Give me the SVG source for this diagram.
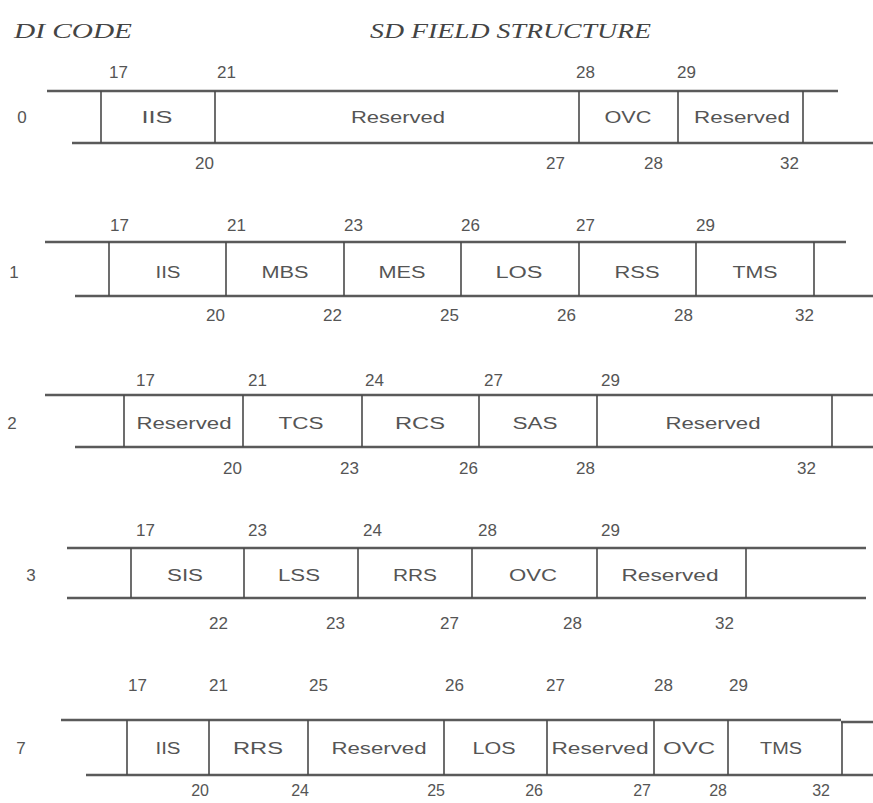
<svg xmlns="http://www.w3.org/2000/svg" width="873" height="803" viewBox="0 0 873 803">
<style>
.title{font-family:"Liberation Serif",serif;font-style:italic;font-size:22px;fill:#444}
.num{font-family:"Liberation Sans",Arial,sans-serif;font-size:17px;fill:#555}
.nb{text-anchor:end}
.cell{font-family:"Liberation Sans",Arial,sans-serif;font-size:16px;fill:#555;text-anchor:middle}
.di{font-family:"Liberation Sans",Arial,sans-serif;font-size:17px;fill:#555;text-anchor:middle}
.h{stroke:#5a5a5a;stroke-width:2.6;fill:none}
.v{stroke:#4a4a4a;stroke-width:1.6;fill:none}
</style>
<rect width="873" height="803" fill="#fff"/>
<g id="header">
<text class="title" x="14" y="38" textLength="118" lengthAdjust="spacingAndGlyphs">DI CODE</text>
<text class="title" x="370" y="38" textLength="281" lengthAdjust="spacingAndGlyphs">SD FIELD STRUCTURE</text>
</g>
<g id="connectors">
<path class="h" d="M47 91H838M72 143H873"/>
<path class="v" d="M101 91V143M215 91V143M579 91V143M678 91V143M803 91V143"/>
<path class="h" d="M45 242H846M75 296H873"/>
<path class="v" d="M109 242V296M226 242V296M344 242V296M461 242V296M579 242V296M696 242V296M814 242V296"/>
<path class="h" d="M45 395H873M75 447H873"/>
<path class="v" d="M124 395V447M243 395V447M362 395V447M479 395V447M597 395V447M832 395V447"/>
<path class="h" d="M67 548H866M67 598H866"/>
<path class="v" d="M131 548V598M244 548V598M358 548V598M472 548V598M597 548V598M746 548V598"/>
<path class="h" d="M61 720H841M841 722H873M86 775H873"/>
<path class="v" d="M127 720V775M209 720V775M308 720V775M444 720V775M547 720V775M654 720V775M728 720V775M842 722V775"/>
</g>
<g id="row0">
<text class="di" x="22" y="123">0</text>
<g class="num"><text x="109" y="78">17</text><text x="217" y="78">21</text><text x="576" y="78">28</text><text x="677" y="78">29</text></g>
<g class="num nb"><text x="214" y="169">20</text><text x="565" y="169">27</text><text x="663" y="169">28</text><text x="799" y="169">32</text></g>
<text class="cell" x="157" y="123" textLength="31" lengthAdjust="spacingAndGlyphs">IIS</text>
<text class="cell" x="398" y="123" textLength="94" lengthAdjust="spacingAndGlyphs">Reserved</text>
<text class="cell" x="628" y="123" textLength="47" lengthAdjust="spacingAndGlyphs">OVC</text>
<text class="cell" x="742" y="123" textLength="96" lengthAdjust="spacingAndGlyphs">Reserved</text>
</g>
<g id="row1">
<text class="di" x="14" y="278">1</text>
<g class="num"><text x="110" y="231">17</text><text x="227" y="231">21</text><text x="344" y="231">23</text><text x="461" y="231">26</text><text x="576" y="231">27</text><text x="696" y="231">29</text></g>
<g class="num nb"><text x="225" y="321">20</text><text x="342" y="321">22</text><text x="459" y="321">25</text><text x="576" y="321">26</text><text x="693" y="321">28</text><text x="814" y="321">32</text></g>
<text class="cell" x="168" y="278" textLength="25" lengthAdjust="spacingAndGlyphs">IIS</text>
<text class="cell" x="285" y="278" textLength="47" lengthAdjust="spacingAndGlyphs">MBS</text>
<text class="cell" x="402" y="278" textLength="47" lengthAdjust="spacingAndGlyphs">MES</text>
<text class="cell" x="519" y="278" textLength="47" lengthAdjust="spacingAndGlyphs">LOS</text>
<text class="cell" x="637" y="278" textLength="45" lengthAdjust="spacingAndGlyphs">RSS</text>
<text class="cell" x="755" y="278" textLength="45" lengthAdjust="spacingAndGlyphs">TMS</text>
</g>
<g id="row2">
<text class="di" x="12" y="429">2</text>
<g class="num"><text x="136" y="386">17</text><text x="248" y="386">21</text><text x="365" y="386">24</text><text x="484" y="386">27</text><text x="601" y="386">29</text></g>
<g class="num nb"><text x="242" y="474">20</text><text x="359" y="474">23</text><text x="478" y="474">26</text><text x="595" y="474">28</text><text x="816" y="474">32</text></g>
<text class="cell" x="184" y="429" textLength="95" lengthAdjust="spacingAndGlyphs">Reserved</text>
<text class="cell" x="301" y="429" textLength="45" lengthAdjust="spacingAndGlyphs">TCS</text>
<text class="cell" x="420" y="429" textLength="50" lengthAdjust="spacingAndGlyphs">RCS</text>
<text class="cell" x="535" y="429" textLength="45" lengthAdjust="spacingAndGlyphs">SAS</text>
<text class="cell" x="713" y="429" textLength="95" lengthAdjust="spacingAndGlyphs">Reserved</text>
</g>
<g id="row3">
<text class="di" x="31" y="581">3</text>
<g class="num"><text x="136" y="536">17</text><text x="248" y="536">23</text><text x="363" y="536">24</text><text x="478" y="536">28</text><text x="601" y="536">29</text></g>
<g class="num nb"><text x="228" y="629">22</text><text x="345" y="629">23</text><text x="459" y="629">27</text><text x="582" y="629">28</text><text x="734" y="629">32</text></g>
<text class="cell" x="185" y="581" textLength="36" lengthAdjust="spacingAndGlyphs">SIS</text>
<text class="cell" x="299" y="581" textLength="42" lengthAdjust="spacingAndGlyphs">LSS</text>
<text class="cell" x="415" y="581" textLength="44" lengthAdjust="spacingAndGlyphs">RRS</text>
<text class="cell" x="533" y="581" textLength="48" lengthAdjust="spacingAndGlyphs">OVC</text>
<text class="cell" x="670" y="581" textLength="97" lengthAdjust="spacingAndGlyphs">Reserved</text>
</g>
<g id="row7">
<text class="di" x="21" y="754">7</text>
<g class="num"><text x="128" y="691">17</text><text x="209" y="691">21</text><text x="309" y="691">25</text><text x="445" y="691">26</text><text x="546" y="691">27</text><text x="654" y="691">28</text><text x="729" y="691">29</text></g>
<g class="num nb" style="font-size:16px"><text x="209" y="796">20</text><text x="309" y="796">24</text><text x="445" y="796">25</text><text x="543" y="796">26</text><text x="651" y="796">27</text><text x="727" y="796">28</text><text x="830" y="796">32</text></g>
<text class="cell" x="168" y="754" textLength="25" lengthAdjust="spacingAndGlyphs">IIS</text>
<text class="cell" x="258" y="754" textLength="50" lengthAdjust="spacingAndGlyphs">RRS</text>
<text class="cell" x="379" y="754" textLength="95" lengthAdjust="spacingAndGlyphs">Reserved</text>
<text class="cell" x="494" y="754" textLength="43" lengthAdjust="spacingAndGlyphs">LOS</text>
<text class="cell" x="600" y="754" textLength="97" lengthAdjust="spacingAndGlyphs">Reserved</text>
<text class="cell" x="689" y="754" textLength="52" lengthAdjust="spacingAndGlyphs">OVC</text>
<text class="cell" x="781" y="754" textLength="42" lengthAdjust="spacingAndGlyphs">TMS</text>
</g>
</svg>
